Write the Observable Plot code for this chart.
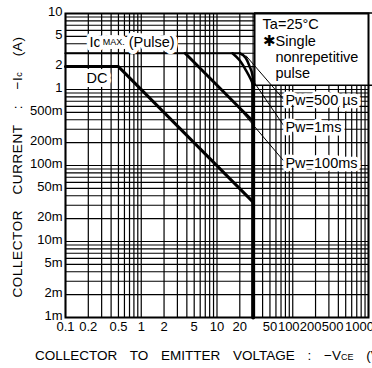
<!DOCTYPE html>
<html><head><meta charset="utf-8">
<script src="https://cdn.jsdelivr.net/npm/d3@7"></script>
<script src="https://cdn.jsdelivr.net/npm/@observablehq/plot@0.6"></script>
<style>
body{margin:0;background:#fff;}
svg{font-family:"Liberation Sans",Arial,Helvetica,sans-serif;}
</style></head><body><div id="chart"></div>
<script>
// Tick values and labels
const xTickValues = [0.1,0.2,0.5,1,2,5,10,20,50,100,200,500,1000];
const xTickLabels = ["0.1","0.2","0.5","1","2","5","10","20","50","100","200","500","1000"];
const yTickValues = [0.001,0.002,0.005,0.01,0.02,0.05,0.1,0.2,0.5,1,2,5,10];
const yTickLabels = ["1m","2m","5m","10m","20m","50m","100m","200m","500m","1","2","5","10"];
const xGridDecades = [0.1,1,10,100];
const yGridDecades = [0.001,0.01,0.1,1];
const gridSteps = [1,2,3,4,5,6,7,8,9];

// Curves (VCE in V, Ic in A)
const dcV = [0.1, 0.5, 30];
const dcIc = [2, 2, 0.033];
const pulseV = [0.1, 20];
const pulseIc = [3, 3];
const pw100msV = [3.8, 30];
const pw100msIc = [3, 0.38];
const pw1msV = [16, 20, 24, 28, 30];
const pw1msIc = [3, 2.4, 1.8, 1.35, 1.15];
const pw500usV = [20, 24, 27, 29.5, 30];
const pw500usIc = [3, 2.6, 2.0, 1.5, 1.2];
const vceoV = [30, 30];
const vceoIc = [1.3, 0.001];

// Annotations
const noteTexts = ["Ta=25°C", "✱Single", "nonrepetitive", "pulse"];
const noteV = [40, 40, 59, 59];
const noteIc = [7.2, 4.3, 2.62, 1.61];
const taBoxV = [32, 1200];
const taBoxIc = [1.12, 10];
const pwLabels = ["Pw=500 µs", "Pw=1ms", "Pw=100ms"];
const pwLabelV = [80, 80, 80];
const pwLabelIc = [0.71, 0.322, 0.108];
const leaderStartV = [24, 28.5, 15];
const leaderStartIc = [2.8, 1.4, 0.77];
const leaderEndV = [76, 76, 76];
const leaderEndIc = [0.74, 0.335, 0.115];
const dcLabelV = [0.19];
const dcLabelIc = [1.39];

const xGrid = xGridDecades.flatMap(d => gridSteps.map(s => d * s)).concat([1000]);
const yGrid = yGridDecades.flatMap(d => gridSteps.map(s => d * s)).concat([10]);
const pts = (vs, is) => vs.map((v, i) => ({v, ic: is[i]}));
const dc = pts(dcV, dcIc), pulse = pts(pulseV, pulseIc), p100 = pts(pw100msV, pw100msIc),
      p1 = pts(pw1msV, pw1msIc), p500 = pts(pw500usV, pw500usIc), vceo = pts(vceoV, vceoIc);
const notes = noteTexts.map((t, i) => ({t, v: noteV[i], ic: noteIc[i]}));
const pwl = pwLabels.map((t, i) => ({t, v: pwLabelV[i], ic: pwLabelIc[i]}));
const leaders = leaderStartV.map((v, i) => ({v1: v, i1: leaderStartIc[i], v2: leaderEndV[i], i2: leaderEndIc[i]}));
const fmtX = v => xTickLabels[xTickValues.indexOf(v)];
const fmtY = v => yTickLabels[yTickValues.indexOf(v)];
const xLab = (vals, dx) => Plot.text(vals, {x: d => d, text: fmtX, frameAnchor: "bottom", lineAnchor: "top", dy: 4, dx, fontSize: 13, fill: "black"});

const chart = Plot.plot({
  width: 372, height: 368,
  marginLeft: 65, marginRight: 4, marginTop: 13, marginBottom: 51,
  style: {fontSize: "13px", fontFamily: "Liberation Sans, Arial, sans-serif", color: "black", background: "white", overflow: "hidden"},
  x: {type: "log", domain: [0.1, 1000], axis: null},
  y: {type: "log", domain: [0.001, 10], axis: null},
  marks: [
    Plot.ruleX(xGrid, {stroke: "black", strokeWidth: 1.2}),
    Plot.ruleY(yGrid, {stroke: "black", strokeWidth: 1.2}),
    Plot.rect([0], {x1: () => taBoxV[0], x2: () => taBoxV[1], y1: () => taBoxIc[0], y2: () => taBoxIc[1], fill: "white", stroke: "black", strokeWidth: 1.5}),
    Plot.link(leaders, {x1: "v1", y1: "i1", x2: "v2", y2: "i2", stroke: "black", strokeWidth: 1}),
    Plot.line(pulse, {x: "v", y: "ic", stroke: "black", strokeWidth: 2.2}),
    Plot.line(dc, {x: "v", y: "ic", stroke: "black", strokeWidth: 3}),
    Plot.line(p100, {x: "v", y: "ic", stroke: "black", strokeWidth: 3}),
    Plot.line(p1, {x: "v", y: "ic", stroke: "black", strokeWidth: 2.5, curve: "monotone-x"}),
    Plot.line(p500, {x: "v", y: "ic", stroke: "black", strokeWidth: 2.5, curve: "monotone-x"}),
    Plot.line(vceo, {x: "v", y: "ic", stroke: "black", strokeWidth: 4}),
    Plot.frame({stroke: "black", strokeWidth: 2}),
    Plot.text(notes, {x: "v", y: "ic", text: "t", textAnchor: "start", fontSize: 14.5, fill: "black"}),
    Plot.text(pwl, {x: "v", y: "ic", text: "t", textAnchor: "start", fontSize: 14.5, fill: "black", stroke: "white", strokeWidth: 7, paintOrder: "stroke", strokeLinejoin: "round"}),
    Plot.text(dcLabelV.map((v, i) => ({v, ic: dcLabelIc[i]})), {x: "v", y: "ic", text: () => "DC", textAnchor: "start", fontSize: 14.5, fill: "black", stroke: "white", strokeWidth: 8, paintOrder: "stroke", strokeLinejoin: "round"}),
    Plot.text(yTickValues, {y: d => d, text: fmtY, frameAnchor: "left", textAnchor: "end", dx: -3, dy: -2, fontSize: 13, fill: "black"}),
    xLab(xTickValues.slice(0, 9), 0),
    xLab([100], -4),
    xLab([200], -5),
    xLab([500], -13),
    xLab([1000], -9)
  ]
});
document.getElementById("chart").appendChild(chart);

// Labels needing subscripts, positioned via the plot's scales
const sx = chart.scale("x"), sy = chart.scale("y");
const svg = d3.select(chart);
// Ic Max. (Pulse)
const icLabel = svg.append("text")
  .attr("x", sx.apply(0.21)).attr("y", sy.apply(4.1))
  .attr("text-anchor", "start")
  .attr("dominant-baseline", "central")
  .attr("font-size", 14.5)
  .attr("stroke", "white").attr("stroke-width", 8).attr("paint-order", "stroke").attr("stroke-linejoin", "round")
  .attr("fill", "black");
icLabel.append("tspan").text("Ic");
icLabel.append("tspan").attr("font-size", 9).attr("dx", 2).text("MAX.");
icLabel.append("tspan").attr("dx", 4).text("(Pulse)");

// Y title
const yt = svg.append("text")
  .attr("transform", "translate(17,167) rotate(-90)")
  .attr("text-anchor", "middle").attr("dominant-baseline", "central")
  .attr("font-size", 13.5).attr("word-spacing", "11px").attr("letter-spacing", "0.6px").attr("fill", "black");
yt.append("tspan").text("COLLECTOR CURRENT : −I");
yt.append("tspan").attr("font-size", 9).attr("dy", 2).text("c");
yt.append("tspan").attr("dy", -2).text(" (A)");

// X title
const xtl = svg.append("text")
  .attr("x", 35).attr("y", 360)
  .attr("text-anchor", "start")
  .attr("font-size", 13.5).attr("word-spacing", "9px").attr("fill", "black");
xtl.append("tspan").text("COLLECTOR TO EMITTER VOLTAGE : −V");
xtl.append("tspan").attr("font-size", 9).text("CE");
xtl.append("tspan").text(" (V)");
</script></body></html>
